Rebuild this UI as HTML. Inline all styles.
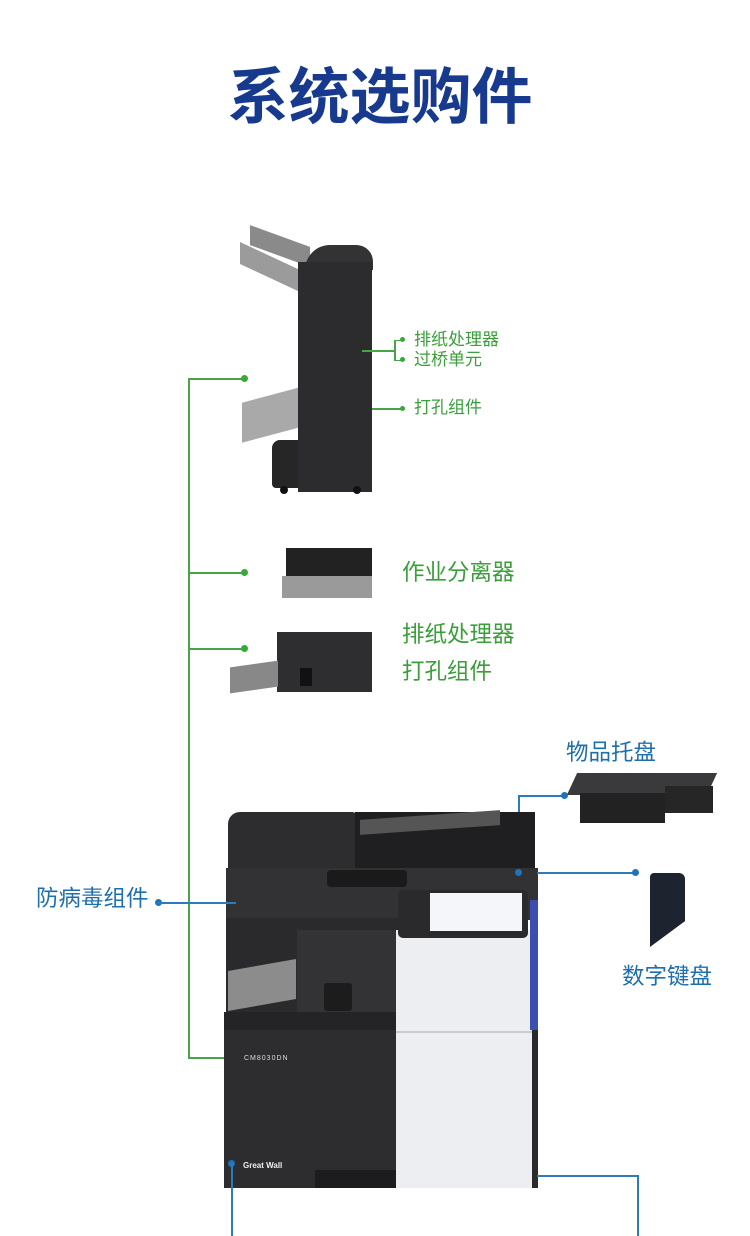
<!DOCTYPE html>
<html><head><meta charset="utf-8"><style>
*{margin:0;padding:0;box-sizing:border-box}
body{width:750px;height:1236px;background:#fff;position:relative;overflow:hidden;font-family:"Liberation Sans","Noto Sans CJK SC",sans-serif}
.a{position:absolute}
.g{color:#3a9e3a}
.b{color:#1e6fae}
.gl{background:#49a449}
.bl{background:#2b7bbd}
.dg{width:7px;height:7px;border-radius:50%;background:#38a838}
.db{width:7px;height:7px;border-radius:50%;background:#1f73bb}
</style></head><body>
<div class="a" style="left:0;top:62px;width:760px;text-align:center;font-size:61px;font-weight:bold;color:#173a8f;line-height:70px">系统选购件</div>

<!-- finisher -->
<div class="a" style="left:250px;top:236px;width:60px;height:20px;background:#8a8a8a;transform:skewY(20deg)"></div>
<div class="a" style="left:240px;top:256px;width:60px;height:22px;background:#9b9b9b;transform:skewY(25deg)"></div>
<div class="a" style="left:242px;top:395px;width:58px;height:40px;background:#a9a9a9;transform:skewY(-15deg)"></div>
<div class="a" style="left:272px;top:440px;width:30px;height:48px;background:#262626;border-radius:8px 0 0 4px"></div>
<div class="a" style="left:305px;top:245px;width:68px;height:25px;background:#333;border-radius:30px 20px 0 0"></div>
<div class="a" style="left:298px;top:262px;width:74px;height:230px;background:#2c2c2e"></div>
<div class="a" style="left:280px;top:486px;width:8px;height:8px;border-radius:50%;background:#111"></div>
<div class="a" style="left:353px;top:486px;width:8px;height:8px;border-radius:50%;background:#111"></div>

<!-- green lines -->
<div class="a gl" style="left:188px;top:378px;width:2px;height:680px"></div>
<div class="a gl" style="left:188px;top:378px;width:56px;height:2px"></div>
<div class="a gl" style="left:188px;top:572px;width:56px;height:2px"></div>
<div class="a gl" style="left:188px;top:648px;width:56px;height:2px"></div>
<div class="a gl" style="left:188px;top:1057px;width:44px;height:2px"></div>
<div class="a dg" style="left:241px;top:375px"></div>
<div class="a dg" style="left:241px;top:569px"></div>
<div class="a dg" style="left:241px;top:645px"></div>
<div class="a dg" style="left:229px;top:1054px"></div>

<div class="a gl" style="left:362px;top:350px;width:32px;height:2px"></div>
<div class="a gl" style="left:394px;top:340px;width:2px;height:20px"></div>
<div class="a gl" style="left:394px;top:340px;width:8px;height:1px"></div>
<div class="a gl" style="left:394px;top:360px;width:8px;height:1px"></div>
<div class="a dg" style="left:400px;top:337px;width:5px;height:5px"></div>
<div class="a dg" style="left:400px;top:357px;width:5px;height:5px"></div>
<div class="a g" style="left:414px;top:330px;font-size:17px;line-height:20px">排纸处理器</div>
<div class="a g" style="left:414px;top:350px;font-size:17px;line-height:20px">过桥单元</div>
<div class="a gl" style="left:372px;top:408px;width:30px;height:2px"></div>
<div class="a dg" style="left:400px;top:406px;width:5px;height:5px"></div>
<div class="a g" style="left:414px;top:398px;font-size:17px;line-height:20px">打孔组件</div>

<!-- job separator -->
<div class="a" style="left:286px;top:548px;width:86px;height:28px;background:#222"></div>
<div class="a" style="left:282px;top:576px;width:90px;height:22px;background:#9a9a9a"></div>
<div class="a g" style="left:402px;top:559px;font-size:22.5px;line-height:28px">作业分离器</div>

<!-- finisher 2 -->
<div class="a" style="left:277px;top:632px;width:95px;height:60px;background:#2e2e30"></div>
<div class="a" style="left:230px;top:664px;width:48px;height:26px;background:#888;transform:skewY(-8deg)"></div>
<div class="a" style="left:300px;top:668px;width:12px;height:18px;background:#111"></div>
<div class="a g" style="left:402px;top:621px;font-size:22.5px;line-height:28px">排纸处理器</div>
<div class="a g" style="left:402px;top:658px;font-size:22.5px;line-height:28px">打孔组件</div>

<!-- tray -->
<div class="b a" style="left:566px;top:739px;font-size:22.5px;line-height:28px">物品托盘</div>
<div class="a" style="left:572px;top:773px;width:140px;height:22px;background:#3a3a3c;transform:skewX(-25deg)"></div>
<div class="a" style="left:580px;top:793px;width:85px;height:30px;background:#222"></div>
<div class="a" style="left:665px;top:786px;width:48px;height:27px;background:#262626"></div>
<div class="a bl" style="left:518px;top:795px;width:46px;height:2px"></div>
<div class="a bl" style="left:518px;top:795px;width:2px;height:77px"></div>
<div class="a db" style="left:561px;top:792px"></div>

<!-- printer -->
<div class="a" style="left:228px;top:812px;width:130px;height:60px;background:#2d2d2f;border-radius:12px 6px 0 0"></div>
<div class="a" style="left:355px;top:812px;width:180px;height:58px;background:#1f1f21"></div>
<div class="a" style="left:360px;top:815px;width:140px;height:15px;background:#555;transform:skewY(-4deg)"></div>
<div class="a" style="left:226px;top:868px;width:312px;height:52px;background:#323234"></div>
<div class="a" style="left:327px;top:870px;width:80px;height:17px;background:#1a1a1a;border-radius:4px"></div>
<div class="a" style="left:226px;top:918px;width:172px;height:112px;background:#2a2a2c"></div>
<div class="a" style="left:228px;top:965px;width:68px;height:40px;background:#8c8c8c;transform:skewY(-10deg)"></div>
<div class="a" style="left:297px;top:930px;width:100px;height:82px;background:#333335"></div>
<div class="a" style="left:324px;top:983px;width:28px;height:28px;background:#1c1c1c;border-radius:3px"></div>
<div class="a" style="left:396px;top:930px;width:136px;height:258px;background:#eceef1"></div>
<div class="a" style="left:396px;top:1031px;width:136px;height:2px;background:#c8cbd0"></div>
<div class="a" style="left:530px;top:900px;width:8px;height:130px;background:#3c4fae"></div>
<div class="a" style="left:532px;top:1030px;width:6px;height:158px;background:#2a2a2c"></div>
<div class="a" style="left:398px;top:890px;width:130px;height:48px;background:#2a2a2c;border-radius:5px"></div>
<div class="a" style="left:430px;top:893px;width:92px;height:38px;background:#f4f6fa"></div>
<div class="a" style="left:224px;top:1012px;width:172px;height:18px;background:#242426"></div>
<div class="a" style="left:224px;top:1030px;width:172px;height:158px;background:#2d2d30"></div>
<div class="a" style="left:315px;top:1170px;width:81px;height:18px;background:#1c1c1e"></div>
<div class="a" style="left:244px;top:1055px;font-size:7px;color:#ddd;letter-spacing:1px">CM8030DN</div>
<div class="a" style="left:243px;top:1161px;font-size:8px;font-weight:bold;color:#eee">Great Wall</div>

<!-- blue lines -->
<div class="a db" style="left:515px;top:869px"></div>
<div class="a bl" style="left:537px;top:872px;width:98px;height:2px"></div>
<div class="a db" style="left:632px;top:869px"></div>
<div class="a" style="left:650px;top:873px;width:35px;height:74px;background:#1d2430;border-radius:4px 6px 0 0;clip-path:polygon(0 0,100% 0,100% 65%,0 100%)"></div>
<div class="b a" style="left:622px;top:963px;font-size:22.5px;line-height:28px">数字键盘</div>

<div class="b a" style="left:36px;top:885px;font-size:22.5px;line-height:28px">防病毒组件</div>
<div class="a db" style="left:155px;top:899px"></div>
<div class="a bl" style="left:158px;top:902px;width:78px;height:2px"></div>

<div class="a db" style="left:228px;top:1160px"></div>
<div class="a bl" style="left:231px;top:1163px;width:2px;height:73px"></div>
<div class="a bl" style="left:537px;top:1175px;width:100px;height:2px"></div>
<div class="a bl" style="left:637px;top:1175px;width:2px;height:61px"></div>
</body></html>
